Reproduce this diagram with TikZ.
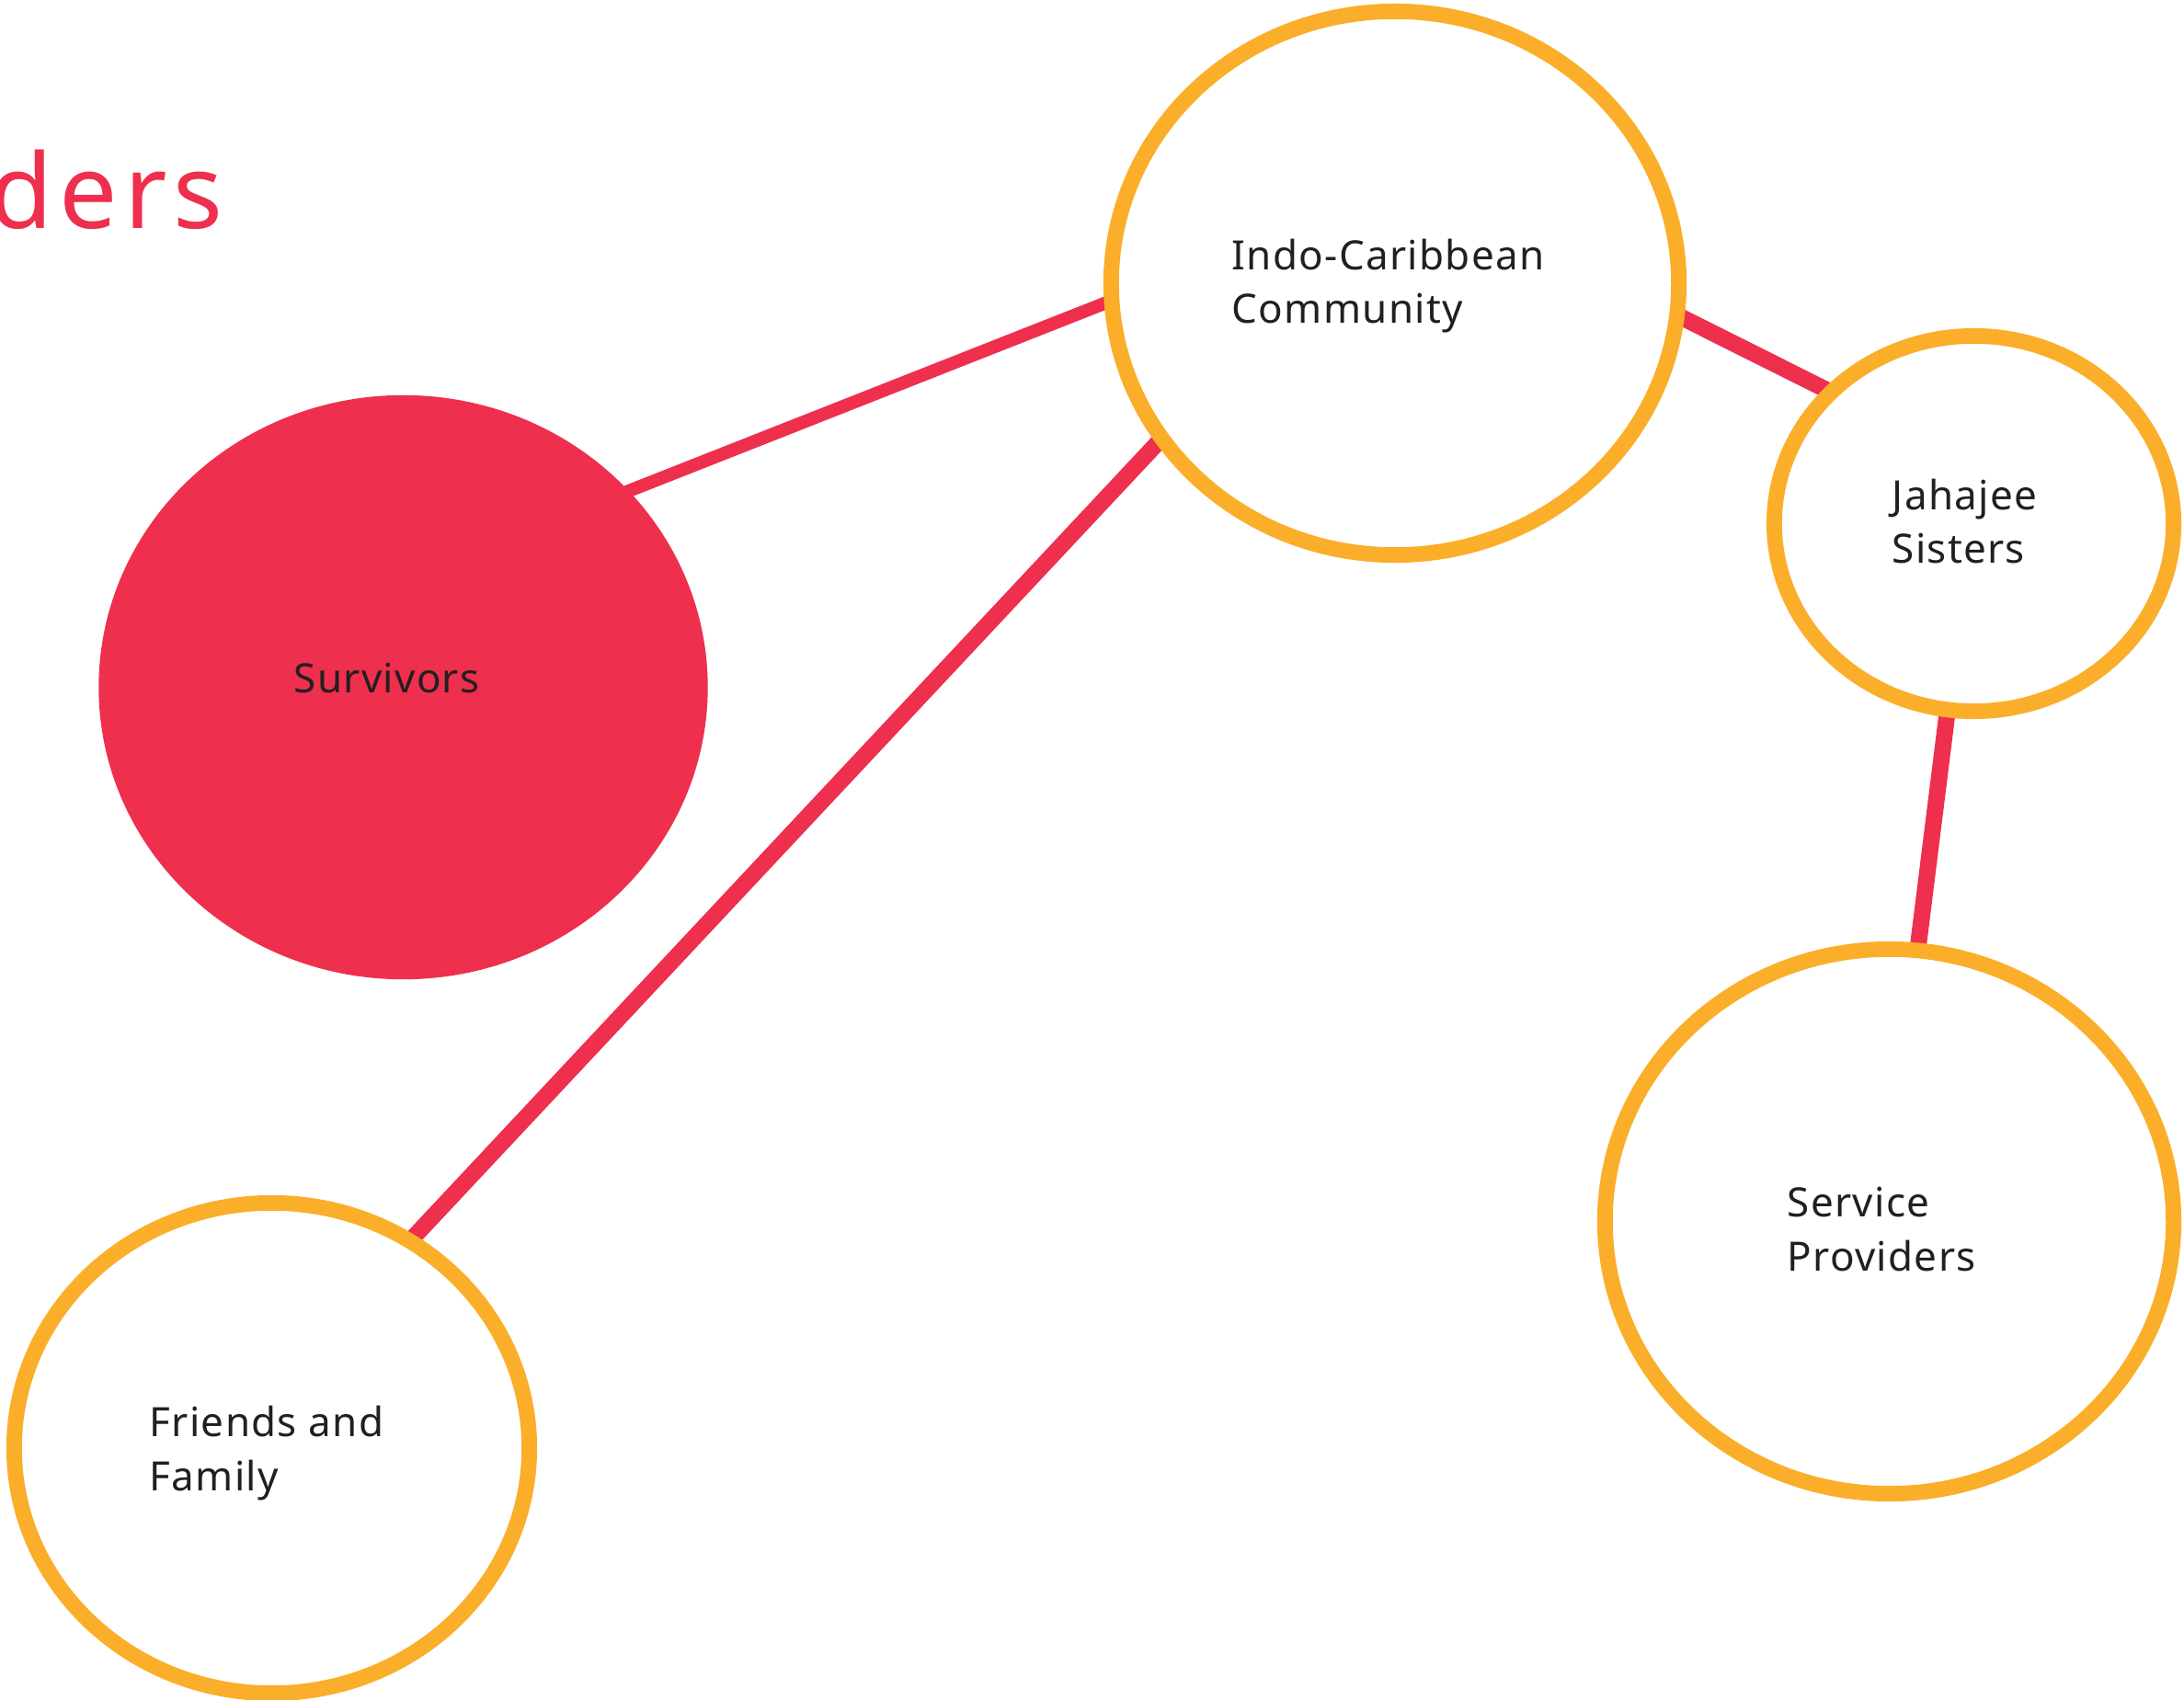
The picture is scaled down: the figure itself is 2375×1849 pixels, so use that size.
\documentclass[tikz,border=0pt]{standalone}
\usepackage{fontspec}
\setmainfont{Noto Sans}
\newfontfamily\labelfont[LetterSpace=3]{Noto Sans}
\newfontfamily\headfont[LetterSpace=6]{Noto Sans}
\usetikzlibrary{shapes.geometric}
\definecolor{rosered}{HTML}{EE2F4D}
\definecolor{amber}{HTML}{FBAE2A}
\definecolor{ink}{HTML}{231F20}
\pgfdeclarelayer{background}
\pgfsetlayers{background,main}
\begin{document}
\begin{tikzpicture}[x=0.01cm,y=-0.01cm,
  ring/.style={ellipse,draw=amber,line width=4.8pt,fill=white,inner sep=0pt},
  blob/.style={ellipse,fill=rosered,inner sep=0pt},
  tag/.style={font=\labelfont\fontsize{12.5}{16.5}\selectfont,text=ink,align=left,inner sep=0pt,anchor=base west},
  link/.style={draw=rosered,line width=5.1pt,shorten <=-0.2cm,shorten >=-0.2cm},
  thinlink/.style={link,line width=4pt},
]
\useasboundingbox (0,0) rectangle (2375,1849);

% heading, running off the left edge
\node[font=\headfont\fontsize{32}{38}\selectfont,text=rosered,anchor=base east,inner sep=0pt] (heading) at (243,249) {ders};

% the groups
\node[blob,minimum width=6.62cm,minimum height=6.35cm] (surv) at (438.5,747.5) {};
\node[ring,minimum width=6.17cm,minimum height=5.91cm] (indo) at (1517,308) {};
\node[ring,minimum width=4.34cm,minimum height=4.08cm] (jaha) at (2146.5,569.5) {};
\node[ring,minimum width=6.18cm,minimum height=5.92cm] (serv) at (2054.5,1328.5) {};
\node[ring,minimum width=5.60cm,minimum height=5.33cm] (friends) at (295.5,1575) {};

% their names (two-line names sit on the baseline of their last line)
\node[tag] (survText) at (319,753) {Survivors};
\node[tag] (indoText) at (1339,352) {Indo-Caribbean\\Community};
\node[tag] (jahaText) at (2057,613) {Jahajee\\Sisters};
\node[tag] (servText) at (1943,1382) {Service\\Providers};
\node[tag] (friendsText) at (162,1621) {Friends and\\Family};

% links between the groups, kept behind the circles
\begin{pgfonlayer}{background}
\draw[thinlink] (surv.41.5) -- (indo.184);
\draw[link] (indo.214.9) -- (friends.56.1);
\draw[link] (indo.-7.3) -- (jaha.138.2);
\draw[link] (jaha.262.5) -- (serv.84.4);
\end{pgfonlayer}
\end{tikzpicture}
\end{document}
